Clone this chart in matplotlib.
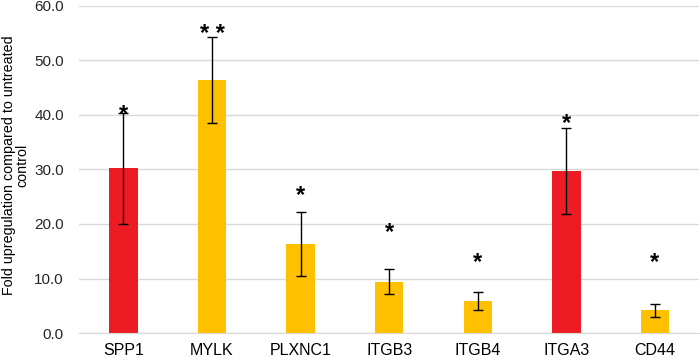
import matplotlib.pyplot as plt

plt.rcParams['font.family'] = ['Liberation Sans', 'DejaVu Sans']

genes = ["SPP1", "MYLK", "PLXNC1", "ITGB3", "ITGB4", "ITGA3", "CD44"]
fold_change = [30.2, 46.4, 16.3, 9.4, 5.9, 29.7, 4.2]
errors = [10.2, 7.9, 5.9, 2.3, 1.7, 7.9, 1.2]
stars = ["*", "* *", "*", "*", "*", "*", "*"]
star_height = [41.3, 56.0, 26.6, 19.8, 14.2, 39.7, 14.3]
bar_colors = ["#ED1C24", "#FFC000", "#FFC000", "#FFC000", "#FFC000", "#ED1C24", "#FFC000"]


def main():
    fig = plt.figure(figsize=(7, 3.63), dpi=100)
    ax = fig.add_axes([0.113, 0.0826, 0.886, 0.901])

    x = range(len(genes))
    ax.bar(x, fold_change, width=0.32, color=bar_colors, zorder=2)
    ax.errorbar(x, fold_change, yerr=errors, fmt="none", ecolor="black",
                elinewidth=1, capsize=3.5, capthick=1, zorder=3)

    # significance stars, nudged down since the glyph sits high in its box
    for i, s in enumerate(stars):
        ax.annotate(s, (i, star_height[i]), xytext=(0, -7), textcoords="offset pixels",
                    ha="center", va="center", fontsize=17, fontweight="bold")

    ax.set_ylim(0, 60)
    ax.set_xlim(-0.5, len(genes) - 0.5)
    ax.set_yticks(range(0, 61, 10))
    ax.set_yticklabels([f"{v:.1f}" for v in range(0, 61, 10)], fontsize=11, color="#262626")
    ax.set_xticks(list(x))
    ax.set_xticklabels(genes, fontsize=11.5, color="black")
    ax.tick_params(axis="y", length=0, pad=11)
    ax.tick_params(axis="x", length=0, pad=7)
    ax.yaxis.grid(True, color="#D9D9D9", linewidth=1, zorder=0)
    ax.set_axisbelow(True)
    for side in ["top", "right", "left"]:
        ax.spines[side].set_visible(False)
    ax.spines["bottom"].set_color("#D9D9D9")

    # y label placed by hand so it stays inside the figure
    fig.text(2 / 700, 0.545, "Fold upregulation compared to untreated\ncontrol",
             rotation=90, ha="left", va="center", multialignment="center",
             fontsize=10.3, linespacing=0.95)

    fig.savefig("out.png", dpi=100)


if __name__ == "__main__":
    main()
